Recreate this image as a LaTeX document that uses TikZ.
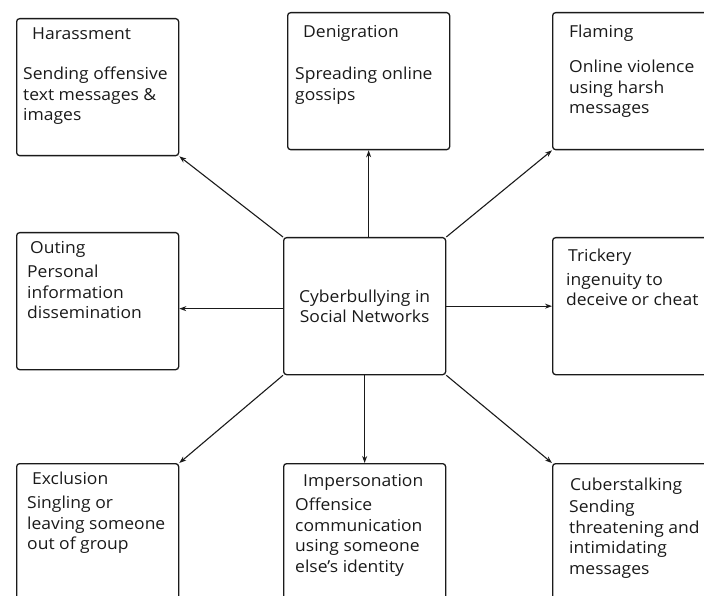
\documentclass[tikz,border=0pt]{standalone}
\usepackage{fontspec}
\setmainfont{Open Sans}[FakeStretch=1.06]
\usepackage{tikz}
\usetikzlibrary{arrows.meta}
\definecolor{inkgray}{HTML}{1A1A1A}

\begin{document}
\begin{tikzpicture}[x=1pt,y=-1pt,>={Stealth[length=7pt,width=5pt]},
  card/.style={draw=inkgray,line width=1.3pt,rounded corners=3pt,anchor=north west,
    minimum width=162pt,minimum height=137pt,inner sep=0pt},
  ttl/.style={anchor=base west,inner sep=0pt,text=inkgray,font=\fontsize{16.5}{20.5}\selectfont},
  txt/.style={anchor=north west,align=left,inner sep=0pt,text=inkgray,
    font=\fontsize{16.5}{20.5}\selectfont,execute at begin node=\strut},
  link/.style={->,line width=1.1pt,draw=inkgray}]
  \clip (0,0) rectangle (704,596);
  % boxes
  \node[card] (harass) at (16,18) {};
  \node[card] (denig) at (287,12) {};
  \node[card] (flame) at (552,12) {};
  \node[card] (outing) at (16,232) {};
  \node[card] (hub) at (283,237) {};
  \node[card] (trick) at (552,237) {};
  \node[card] (excl) at (16,463) {};
  \node[card] (imper) at (283,463) {};
  \node[card] (stalk) at (552,463) {};
  % titles
  \node[ttl] (harassT) at (32,40) {Harassment};
  \node[ttl] (denigT) at (303,38) {Denigration};
  \node[ttl] (flameT) at (569,38) {Flaming};
  \node[ttl] (outingT) at (30,253) {Outing};
  \node[ttl] (trickT) at (568,261) {Trickery};
  \node[ttl] (exclT) at (32,484) {Exclusion};
  \node[ttl] (imperT) at (303,486) {Impersonation};
  \node[ttl] (stalkT) at (570,490) {Cuberstalking};
  % descriptions
  \node[txt] (harassB) at (23,67) {Sending offensive\\text messages \&\\images};
  \node[txt] (denigB) at (295,67) {Spreading online\\gossips};
  \node[txt] (flameB) at (569,60) {Online violence\\using harsh\\messages};
  \node[txt] (outingB) at (27,265) {Personal\\information\\dissemination};
  \node[txt] (trickB) at (566,273) {ingenuity to\\deceive\kern-1pt\ or cheat};
  \node[txt] (exclB) at (27,496) {Singling or\\leaving someone\\out of group};
  \node[txt] (imperB) at (295,498) {Offensice\\communication\\using someone\\else’s identity};
  \node[txt] (stalkB) at (569,500) {Sending\\threatening and\\intimidating\\messages};
  \node[align=center,inner sep=0pt,text=inkgray,font=\fontsize{16.5}{20.5}\selectfont]
    (hubT) at (hub.center) {Cyberbullying in\\Social Networks};
  % links
  \draw[link] (hub.north west) -- (harass.south east);
  \draw[link] (hub.north -| denig.south) -- (denig.south);
  \draw[link] (hub.north east) -- (flame.south west);
  \draw[link] ([yshift=-2.5pt]hub.west) -- ([yshift=-2.5pt]outing.east |- hub.west);
  \draw[link] (hub.east) -- (trick.west |- hub.east);
  \draw[link] (hub.south west) -- (excl.north east);
  \draw[link] (hub.south) -- (imper.north);
  \draw[link] (hub.south east) -- (stalk.north west);
\end{tikzpicture}
\end{document}
